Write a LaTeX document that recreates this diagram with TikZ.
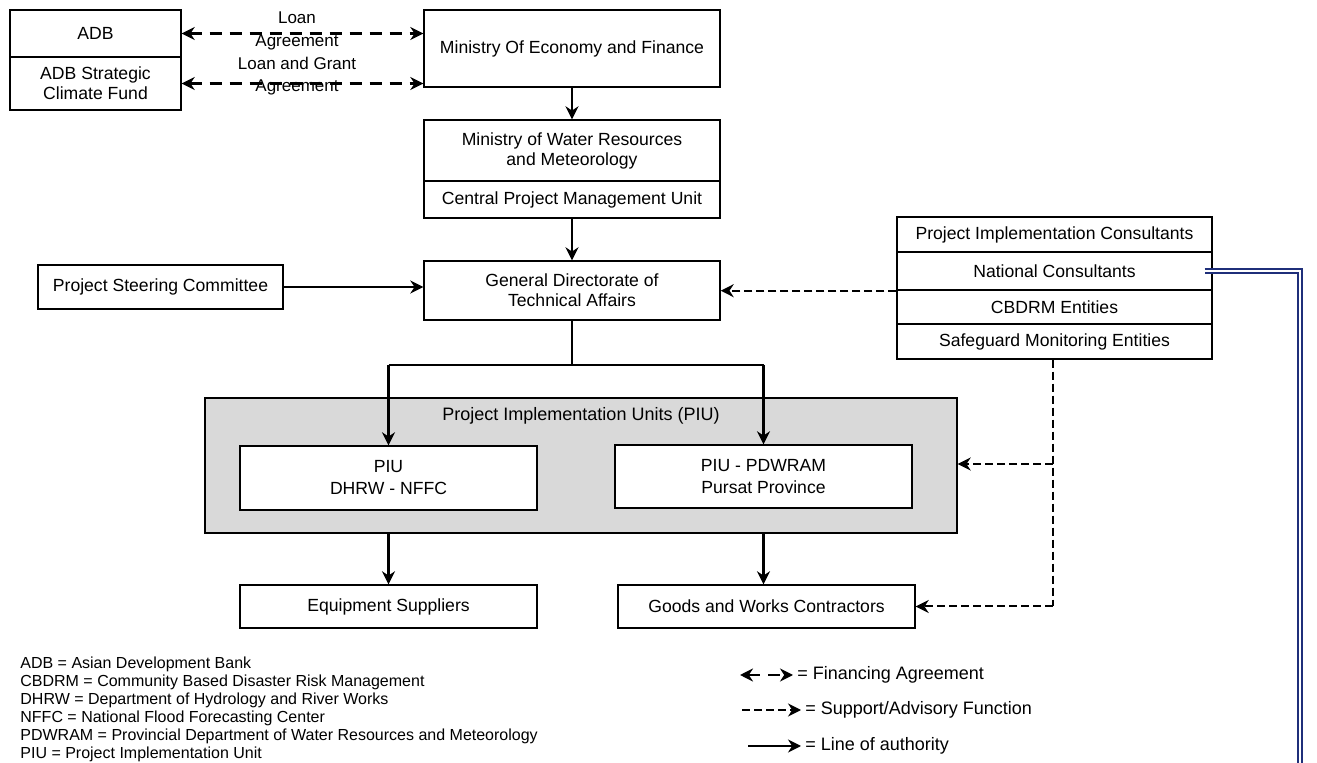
\documentclass[tikz,border=0pt]{standalone}
\usepackage{fontspec}
\setmainfont{Liberation Sans}
\usetikzlibrary{arrows.meta,positioning}
\usepackage{xcolor}
\definecolor{navy}{HTML}{1F2F7A}

\begin{document}
\begin{tikzpicture}[x=0.5pt, y=-0.5pt,
	main/.style = {draw, line width=0.7pt, fill=white, inner sep=1pt, align=center, font=\fontsize{8.8}{10}\selectfont},
	auth/.style = {line width=1.4pt, -{Stealth[length=6.5pt,width=6.5pt]}},
	supp/.style = {line width=1pt, dash pattern=on 4pt off 2pt, -{Stealth[length=6.5pt,width=6.5pt]}},
	fin/.style = {line width=1.4pt, dash pattern=on 6pt off 4pt, {Stealth[length=6.5pt,width=6.5pt]}-{Stealth[length=6.5pt,width=6.5pt]}},
	lbl/.style = {inner sep=0pt, align=center, font=\fontsize{8.5}{10}\selectfont},
	key/.style = {anchor=west, inner sep=0pt, font=\fontsize{9}{10}\selectfont}]
	\useasboundingbox (0,0) rectangle (1317,763);
	% top row
	\node[main, minimum width=85.5pt, minimum height=23.5pt] (adb) at (95.5,33.5) {ADB};
	\node[main, minimum width=85.5pt, minimum height=26.5pt] (scf) at (95.5,83.5) {ADB Strategic\\Climate Fund};
	\node[main, minimum width=148pt, minimum height=38.5pt] (mef) at (572,48.5) {Ministry Of Economy and Finance};
	\draw[fin] (adb.east) -- (adb.east -| mef.west);
	\draw[fin] (scf.east) -- (scf.east -| mef.west);
	\node[lbl] (loan1) at (297,18) {Loan};
	\node[lbl] (loan2) at (297,42) {Agreement};
	\node[lbl] (grant1) at (297,63) {Loan and Grant};
	\node[lbl] (grant2) at (297,87) {Agreement};
	% ministries
	\node[main, minimum width=148pt, minimum height=30.5pt] (mwr) at (572,150.5) {Ministry of Water Resources\\and Meteorology};
	\node[main, minimum width=148pt, minimum height=18.5pt] (cpmu) at (572,199.5) {Central Project Management Unit};
	\node[main, minimum width=148pt, minimum height=29.5pt] (gdta) at (572,290.5) {General Directorate of\\Technical Affairs};
	\node[main, minimum width=122.5pt, minimum height=22pt] (psc) at (160.5,287) {Project Steering Committee};
	\draw[auth] (mef) -- (mwr);
	\draw[auth] (cpmu) -- (gdta);
	\draw[auth] (psc) -- (psc -| gdta.west);
	% consultants
	\node[main, minimum width=157.5pt, minimum height=17.5pt] (pic) at (1054.5,234.5) {Project Implementation Consultants};
	\node[main, minimum width=157.5pt, minimum height=19pt] (nc) at (1054.5,271) {National Consultants};
	\node[main, minimum width=157.5pt, minimum height=17pt] (cbdrm) at (1054.5,307) {CBDRM Entities};
	\node[main, minimum width=157.5pt, minimum height=17.5pt] (smon) at (1054.5,341.5) {Safeguard Monitoring Entities};
	\draw[supp] (nc.south west) -- (nc.south west -| gdta.east);
	% PIU block
	\node[main, fill=gray!30, minimum width=376pt, minimum height=67.5pt] (piu) at (581,465.5) {};
	\node[lbl, font=\fontsize{9}{10}\selectfont] (piut) at (581,416) {Project Implementation Units (PIU)};
	\node[main, minimum width=148.5pt, minimum height=32pt, font=\fontsize{8.8}{11}\selectfont] (piu1) at (388.5,478) {PIU\\DHRW - NFFC};
	\node[main, minimum width=148.5pt, minimum height=31.5pt, font=\fontsize{8.8}{11}\selectfont] (piu2) at (763.5,476.5) {PIU - PDWRAM\\Pursat Province};
	\coordinate (fork) at (572,365);
	\draw[line width=0.7pt] (gdta) -- (fork);
	\draw[line width=1.2pt] (piu1 |- fork) -- (piu2 |- fork);
	\draw[auth] (piu1 |- fork) -- (piu1);
	\draw[auth] (piu2 |- fork) -- (piu2);
	% suppliers
	\node[main, minimum width=148.5pt, minimum height=21.5pt] (equip) at (388.5,606.5) {Equipment Suppliers};
	\node[main, minimum width=148.5pt, minimum height=21.5pt] (goods) at (766.5,606.5) {Goods and Works Contractors};
	\draw[auth] (piu.south -| piu1) -- (equip);
	\draw[auth] (piu.south -| piu2) -- (piu2 |- goods.north);
	\coordinate (tap) at (1053,464);
	\draw[supp, -] ([xshift=-1pt]smon.south) -- ([xshift=-1pt]smon.south |- goods);
	\draw[supp] ([xshift=-1pt]smon.south |- goods) -- (goods.east);
	\draw[supp] (tap) -- (tap -| piu.east);
	% national consultants link
	\coordinate (ncend) at (1300,775);
	\draw[navy, line width=0.7pt, double=white, double distance=1.3pt] ([xshift=-4pt]nc.east) -| (ncend);
	% abbreviations
	\node[anchor=north west, align=left, inner sep=0pt, font=\fontsize{8}{9}\selectfont] (abbr) at (20,657) {ADB = Asian Development Bank\\
		CBDRM = Community Based Disaster Risk Management\\
		DHRW = Department of Hydrology and River Works\\
		NFFC = National Flood Forecasting Center\\
		PDWRAM = Provincial Department of Water Resources and Meteorology\\
		PIU = Project Implementation Unit};
	% key
	\node[key] (kfin) at (797,675) {= Financing Agreement};
	\node[key] (ksupp) at (805,710) {= Support/Advisory Function};
	\node[key] (kauth) at (805,746) {= Line of authority};
	\coordinate (kfin0) at (740,675);
	\coordinate (ksupp0) at (742,710);
	\coordinate (kauth0) at (748,746);
	\draw[fin] (kfin0) -- ([xshift=-2pt]kfin.west);
	\draw[supp] (ksupp0) -- ([xshift=-2pt]ksupp.west);
	\draw[auth] (kauth0) -- ([xshift=-2pt]kauth.west);
\end{tikzpicture}
\end{document}
